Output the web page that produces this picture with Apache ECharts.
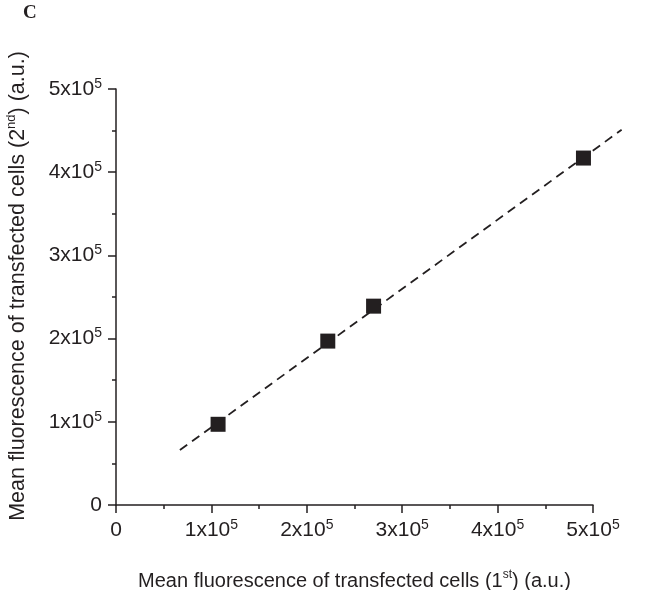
<!DOCTYPE html>
<html>
<head>
<meta charset="utf-8">
<script src="https://cdn.jsdelivr.net/npm/echarts@6/dist/echarts.min.js"></script>
<style>html,body{margin:0;padding:0;background:#fff}#c{width:664px;height:590px}</style>
</head>
<body>
<div id="c"></div>
<script>
// data (arbitrary units)
const pointsX = [1.07e5, 2.22e5, 2.70e5, 4.90e5];
const pointsY = [0.97e5, 1.97e5, 2.39e5, 4.17e5];
const fitX = [0.67e5, 5.30e5];
const fitY = [0.66e5, 4.51e5];
const axisMax = 5e5;
const axisStep = 1e5;
const panelLabel = 'C';
const xTitle = 'Mean fluorescence of transfected cells (1{s|st}) (a.u.)';
const yTitle = 'Mean fluorescence of transfected cells (2{s|nd}) (a.u.)';

const ink = '#231f20';
const font = '"Liberation Sans", Arial, sans-serif';
function fmt(v) {
  if (v === 0) return '{b|0}';
  return '{b|' + Math.round(v / 1e5) + 'x10}{s|5}';
}
const rich = {
  b: { fontSize: 21, fontFamily: font, color: ink, lineHeight: 24 },
  s: { fontSize: 14, fontFamily: font, color: ink, lineHeight: 24, verticalAlign: 'top' }
};
const titleRich = (fs) => ({
  s: { fontSize: Math.round(fs * 0.62), fontFamily: font, color: ink, lineHeight: fs + 4, verticalAlign: 'top' },
  t: { fontSize: fs, fontFamily: font, color: ink, lineHeight: fs + 4 }
});
const W = 664, L = 116, R = 71;
const plotW = W - L - R;
const ext = 1.1; // second (hidden) axis extends beyond 5e5 so the dashed fit can run past the axis end
const chart = echarts.init(document.getElementById('c'), null, { renderer: 'canvas' });
const axisCommon = {
  type: 'value', min: 0, max: axisMax, interval: axisStep,
  axisLine: { show: true, lineStyle: { color: ink, width: 1.5 } },
  axisTick: { show: true, length: 8, lineStyle: { color: ink, width: 1.5 } },
  minorTick: { show: true, splitNumber: 2, length: 4, lineStyle: { color: ink, width: 1.5 } },
  splitLine: { show: false },
  axisLabel: { formatter: fmt, rich: rich }
};
chart.setOption({
  animation: false,
  backgroundColor: '#fff',
  grid: [
    { left: L, right: R, top: 89, bottom: 85, containLabel: false, outerBoundsMode: 'none' },
    { left: L, right: W - L - plotW * ext, top: 89, bottom: 85, containLabel: false, outerBoundsMode: 'none' }
  ],
  xAxis: [
    Object.assign({}, axisCommon, {
      gridIndex: 0,
      axisLabel: { margin: 13, formatter: fmt, rich: rich },
      name: '{t|' + xTitle.replace('{s|st}', '}{s|st}{t|') + '}',
      nameLocation: 'middle', nameGap: 64,
      nameTextStyle: { fontSize: 20, fontFamily: font, color: ink, rich: titleRich(20) }
    }),
    { type: 'value', gridIndex: 1, min: 0, max: axisMax * ext, show: false }
  ],
  yAxis: [
    Object.assign({}, axisCommon, {
      gridIndex: 0,
      axisLabel: { margin: 14, formatter: fmt, rich: rich }
    }),
    { type: 'value', gridIndex: 1, min: 0, max: axisMax, show: false }
  ],
  graphic: [
    {
      type: 'text', left: 23, top: 4,
      style: { text: panelLabel, font: 'bold 19px "Liberation Serif", serif', fill: ink }
    },
    {
      type: 'text', x: 18, y: 286, rotation: Math.PI / 2,
      style: {
        text: '{t|' + yTitle.replace('{s|nd}', '}{s|nd}{t|') + '}',
        rich: titleRich(21.5), align: 'center', verticalAlign: 'middle', fill: ink
      }
    }
  ],
  series: [
    {
      type: 'line', xAxisIndex: 1, yAxisIndex: 1,
      data: fitX.map((x, i) => [x, fitY[i]]), symbol: 'none',
      lineStyle: { color: ink, width: 1.8, type: [9, 6] }, z: 1
    },
    {
      type: 'scatter', xAxisIndex: 0, yAxisIndex: 0,
      data: pointsX.map((x, i) => [x, pointsY[i]]),
      symbol: 'rect', symbolSize: 15, itemStyle: { color: ink, opacity: 1 }, z: 2
    }
  ]
});
</script>
</body>
</html>
